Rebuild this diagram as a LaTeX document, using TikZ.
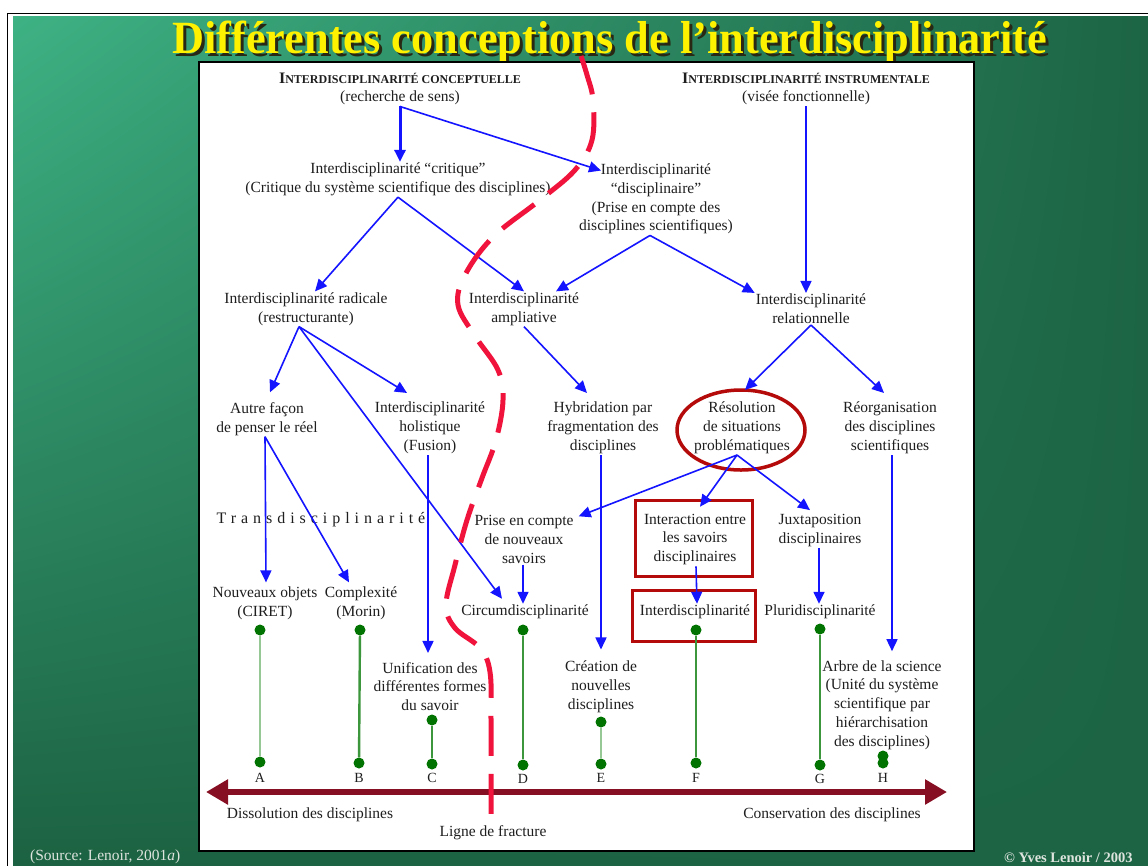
\documentclass[tikz,border=0pt]{standalone}
\usepackage{fontspec}
\setmainfont{Liberation Serif}
\usetikzlibrary{arrows.meta,shapes.geometric,shadings}

\definecolor{vertclair}{RGB}{62,178,132}
\definecolor{vertbas}{RGB}{28,98,66}
\definecolor{vertsombre}{RGB}{28,100,68}
\definecolor{bleufleche}{RGB}{20,20,255}
\definecolor{rougecadre}{RGB}{180,10,10}
\definecolor{rougefracture}{RGB}{240,20,60}
\definecolor{bordeaux}{RGB}{135,15,35}
\definecolor{vertpoint}{RGB}{0,115,0}
\definecolor{verttige}{RGB}{60,150,60}
\definecolor{vertpale}{RGB}{150,200,150}
\definecolor{gristexte}{RGB}{30,30,30}
\definecolor{grispied}{RGB}{222,228,222}
\definecolor{ombretitre}{RGB}{40,40,20}

\newcommand{\entete}[2]{{\bfseries\fontsize{16}{18.8}\selectfont #1\fontsize{12}{18.8}\selectfont #2}}
\newcommand{\motstitre}{\resizebox{875pt}{32.5pt}{\bfseries Différentes conceptions de l’interdisciplinarité}}
\newcommand{\titretexte}{\rlap{\kern3pt\raisebox{-3pt}{\color{ombretitre}\motstitre}}\color{yellow}\motstitre}

\tikzset{
    txt/.style={font=\fontsize{15.5}{18.8}\selectfont, text=gristexte, align=center, inner sep=1pt},
    fleche/.style={draw=bleufleche, line width=1.6pt, -{Triangle[length=12pt,width=11pt]}},
    point/.style={circle, fill=vertpoint, inner sep=0pt, minimum size=11pt},
    tige/.style={draw=verttige, line width=2.4pt},
    tigepale/.style={draw=vertpale, line width=2.4pt},
    cadre/.style={draw=rougecadre, line width=3.5pt, inner sep=0pt},
    lettre/.style={font=\fontsize{14}{16}\selectfont, text=gristexte, inner sep=0pt}
}

\begin{document}
\begin{tikzpicture}[x=1pt, y=-1pt]
            \useasboundingbox (0,0) rectangle (1148,865);
            \fill[white] (0,0) rectangle (1148,865);
            \draw[black, line width=1.5pt] (7.5,13.5) rectangle (1170,890);
            \shade[upper left=vertclair, upper right=vertsombre, lower left=vertbas, lower right=vertsombre] (13,16) rectangle (1148,865);

            %%title
            \node[anchor=base west, inner sep=0pt] (titre) at (172,53) {\titretexte};

            \draw[fill=white, line width=2.5pt] (199,62) rectangle (974,851);

            %%the nodes
            \node[txt] (conceptuelle) at (400,89) {\entete{I}{NTERDISCIPLINARITÉ CONCEPTUELLE}\\(recherche de sens)};
            \node[txt] (instrumentale) at (806,89) {\entete{I}{NTERDISCIPLINARITÉ INSTRUMENTALE}\\(visée fonctionnelle)};
            \node[txt] (critique) at (398,179.5) {Interdisciplinarité “critique”\\(Critique du système scientifique des disciplines)};
            \node[txt] (disciplinaire) at (656,199) {Interdisciplinarité\\“disciplinaire”\\(Prise en compte des\\disciplines scientifiques)};
            \node[txt] (radicale) at (306,309) {Interdisciplinarité radicale\\(restructurante)};
            \node[txt] (ampliative) at (524,309) {Interdisciplinarité\\ampliative};
            \node[txt] (relationnelle) at (811,309) {Interdisciplinarité\\relationnelle};
            \node[txt] (autre) at (267,419) {Autre façon\\de penser le réel};
            \node[txt] (holistique) at (430,428) {Interdisciplinarité\\holistique\\(Fusion)};
            \node[txt] (hybridation) at (603,428) {Hybridation par\\fragmentation des\\disciplines};
            \node[txt] (resolution) at (742,428) {Résolution\\de situations\\problématiques};
            \node[txt] (reorganisation) at (890,428) {Réorganisation\\des disciplines\\scientifiques};
            \node[txt, font=\fontsize{16}{18}\selectfont\addfontfeature{LetterSpace=31}] (trans) at (321,520) {Transdisciplinarité};
            \node[txt] (prise) at (524,539.5) {Prise en compte\\de nouveaux\\savoirs};
            \node[txt] (interaction) at (695,539.5) {Interaction entre\\les savoirs\\disciplinaires};
            \node[txt] (juxta) at (820,530.5) {Juxtaposition\\disciplinaires};
            \node[txt] (nouveaux) at (265,603) {Nouveaux objets\\(CIRET)};
            \node[txt] (complexite) at (361,603) {Complexité\\(Morin)};
            \node[txt] (circum) at (525,612) {Circumdisciplinarité};
            \node[txt] (interdis) at (695,612) {Interdisciplinarité};
            \node[txt] (pluri) at (820,612) {Pluridisciplinarité};
            \node[txt] (unification) at (430,686.5) {Unification des\\différentes formes\\du savoir};
            \node[txt] (creation) at (601,686.5) {Création de\\nouvelles\\disciplines};
            \node[txt] (arbre) at (882,705) {Arbre de la science\\(Unité du système\\scientifique par\\hiérarchisation\\des disciplines)};

            %%red frames
            \node[cadre, ellipse, minimum width=128pt, minimum height=80pt] (cercle) at (741,430) {};
            \node[cadre, minimum width=117pt, minimum height=76pt] (cadreinteraction) at (694,538.5) {};
            \node[cadre, minimum width=123pt, minimum height=51pt] (cadreinterdis) at (694,616) {};

            %%the arrows
            \draw[fleche, line width=3pt] (conceptuelle.south) -- (conceptuelle.south |- critique.north);
            \draw[fleche] (conceptuelle.south) -- ([xshift=-55pt,yshift=-8pt]disciplinaire.north);
            \draw[fleche] (instrumentale.south) -- (instrumentale.south |- relationnelle.north);
            \draw[fleche] (critique.south) -- ([xshift=9pt]radicale.north);
            \draw[fleche] (critique.south) -- (ampliative.north);
            \draw[fleche] ([xshift=-6pt]disciplinaire.south) -- ([xshift=32pt]ampliative.north);
            \draw[fleche] ([xshift=-6pt]disciplinaire.south) -- (relationnelle.north west);
            \draw[fleche] ([xshift=-7pt]radicale.south) -- ([xshift=3pt,yshift=9pt]autre.north);
            \draw[fleche] ([xshift=-7pt]radicale.south) -- ([xshift=-23pt,yshift=8pt]holistique.north);
            \draw[fleche] ([xshift=-7pt]radicale.south) -- ([xshift=-23pt,yshift=5pt]circum.north);
            \draw[fleche] (ampliative.south) -- ([xshift=-16pt,yshift=8pt]hybridation.north);
            \draw[fleche] (relationnelle.south) -- ([xshift=3pt,yshift=11pt]resolution.north);
            \draw[fleche] (relationnelle.south) -- ([xshift=-6pt,yshift=8pt]reorganisation.north);
            \draw[fleche] ([xshift=-2pt]autre.south) -- ([xshift=1pt,yshift=3pt]nouveaux.north);
            \draw[fleche] ([xshift=-2pt]autre.south) -- ([xshift=-12pt,yshift=3pt]complexite.north);
            \draw[fleche] ([xshift=-2pt]holistique.south) -- ([xshift=-2pt,yshift=8pt]unification.north);
            \draw[fleche] ([xshift=-2pt]hybridation.south) -- ([yshift=10pt]creation.north);
            \draw[fleche] ([xshift=-5pt]resolution.south) -- ([xshift=4pt,yshift=-2pt]prise.north east);
            \draw[fleche] ([xshift=-5pt]resolution.south) -- ([xshift=5pt,yshift=6pt]interaction.north);
            \draw[fleche] ([xshift=-5pt]resolution.south) -- ([xshift=-10pt,yshift=3pt]juxta.north);
            \draw[fleche] ([xshift=-1pt]prise.south) -- ([xshift=-2pt]circum.north);
            \draw[fleche] ([xshift=1pt]interaction.south) -- ([xshift=2pt]interdis.north);
            \draw[fleche] ([xshift=-1pt]juxta.south) -- ([xshift=-1pt]pluri.north);
            \draw[fleche] ([xshift=2pt]reorganisation.south) -- ([xshift=10pt,yshift=8pt]arbre.north);

            %%the green bars
            \node[point] (ahaut) at (260,630) {};
            \node[point] (abas) at (260,762) {};
            \node[point] (bhaut) at (360,630) {};
            \node[point] (bbas) at (359,763) {};
            \node[point] (chaut) at (432,720) {};
            \node[point] (cbas) at (432,764) {};
            \node[point] (dhaut) at (523,630) {};
            \node[point] (dbas) at (523,765) {};
            \node[point] (ehaut) at (601,722) {};
            \node[point] (ebas) at (601,764) {};
            \node[point] (fhaut) at (696,630) {};
            \node[point] (fbas) at (696,763) {};
            \node[point] (ghaut) at (820,629) {};
            \node[point] (gbas) at (820,765) {};
            \node[point] (hhaut) at (883,756) {};
            \node[point] (hbas) at (883,763) {};
            \draw[tigepale] (ahaut) -- (abas);
            \draw[tige] (bhaut) -- (bbas);
            \draw[tige] (chaut) -- (cbas);
            \draw[tige] (dhaut) -- (dbas);
            \draw[tigepale] (ehaut) -- (ebas);
            \draw[tige] (fhaut) -- (fbas);
            \draw[tige] (ghaut) -- (gbas);

            \node[lettre] (la) at (260,778) {A};
            \node[lettre] (lb) at (359,778) {B};
            \node[lettre] (lc) at (432,778) {C};
            \node[lettre] (ld) at (523,779) {D};
            \node[lettre] (le) at (601,778) {E};
            \node[lettre] (lf) at (696,778) {F};
            \node[lettre] (lg) at (820,779) {G};
            \node[lettre] (lh) at (883,778) {H};

            %%the axis
            \coordinate (gauche) at (206,792);
            \coordinate (droite) at (947,792);
            \draw[bordeaux, line width=6pt, {Triangle[length=22pt,width=24pt]}-{Triangle[length=22pt,width=24pt]}] (gauche) -- (droite);
            \node[txt] (dissolution) at (310,815) {Dissolution des disciplines};
            \node[txt] (conservation) at (832,815) {Conservation des disciplines};
            \node[txt] (fracture) at (493,833) {Ligne de fracture};

            %%fracture line
            \draw[rougefracture, line width=5pt, dash pattern=on 40pt off 18pt] plot[smooth, tension=0.6] coordinates {(581,56) (587,75) (593,100) (592,140) (575,170) (540,200) (493,237) (465,275) (458,305) (475,336) (498,370) (503,400) (496,440) (482,478) (467,520) (455,565) (446,605) (455,628) (480,648) (490,672) (491,720) (491,817)};

            %%footer
            \node[font=\fontsize{15.5}{17}\selectfont, text=grispied, anchor=west, inner sep=0pt] (source) at (30,857) {(Source: Lenoir, 2001\textit{a})};
            \node[font=\bfseries\fontsize{14.5}{17}\selectfont, text=grispied, anchor=west, inner sep=0pt] (auteur) at (1004,858) {© Yves Lenoir / 2003};
\end{tikzpicture}
\end{document}
